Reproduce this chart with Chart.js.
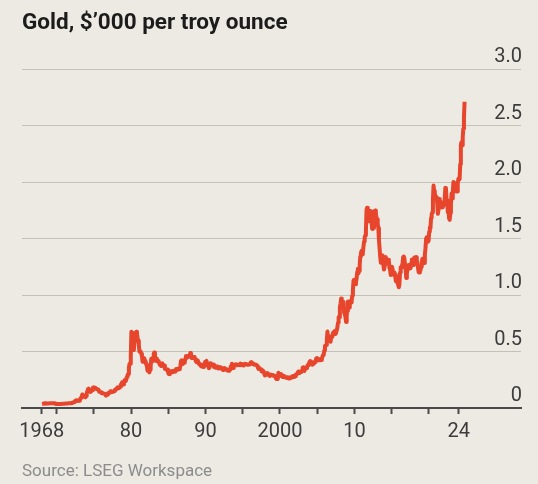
<!DOCTYPE html>
<html>
<head>
<meta charset="utf-8">
<script src="https://cdn.jsdelivr.net/npm/chart.js@4.4.1/dist/chart.umd.min.js"></script>
<style>
  html, body { margin: 0; padding: 0; background: #edeae3; }
  #wrap { position: relative; width: 538px; height: 484px; overflow: hidden; }
  #goldChart { position: absolute; left: 0; top: 0; }
  .title {
    position: absolute; left: 22px; top: 10px;
    font: 700 22.5px/22px Roboto, sans-serif; color: #1c1c1c; white-space: nowrap;
  }
  .source {
    position: absolute; left: 22px; top: 462px;
    font: 400 17px/17px Roboto, sans-serif; color: #8c8c8c; white-space: nowrap;
  }
</style>
</head>
<body>
<div id="wrap">
  <canvas id="goldChart" width="538" height="484"></canvas>
  <div class="title">Gold, $’000 per troy ounce</div>
  <div class="source">Source: LSEG Workspace</div>
</div>
<script>
'use strict';

// Gold price, monthly averages in $ per troy ounce, starting Jan 1968
const startYear = 1968;

const gold1960s = [
  35, 35, 37, 38, 41, 41, 39, 39, 40, 40, 40, 41,
  42, 43, 43, 43, 43, 41, 42, 41, 41, 40, 37, 35
];

const gold1970s = [
  35, 35, 35, 36, 36, 35, 35, 35, 36, 38, 37, 37,
  38, 39, 39, 39, 40, 40, 41, 42, 42, 42, 43, 43,
  46, 48, 48, 49, 54, 60, 66, 68, 65, 65, 63, 64,
  65, 74, 85, 91, 103, 120, 120, 106, 103, 100, 95, 106,
  129, 150, 168, 172, 163, 154, 143, 154, 151, 158, 181, 183,
  176, 180, 178, 170, 167, 166, 166, 163, 144, 143, 142, 139,
  131, 131, 133, 128, 127, 125, 118, 110, 114, 117, 130, 134,
  132, 136, 148, 149, 147, 141, 143, 145, 149, 158, 162, 161,
  173, 178, 184, 175, 177, 183, 189, 206, 212, 227, 206, 208,
  227, 245, 242, 239, 257, 279, 295, 301, 355, 392, 392, 456
];

const gold1980s = [
  675, 665, 554, 517, 514, 600, 644, 627, 674, 661, 623, 595,
  557, 500, 499, 495, 480, 460, 409, 410, 443, 437, 413, 410,
  384, 375, 330, 350, 334, 315, 339, 364, 435, 424, 414, 444,
  481, 491, 420, 432, 438, 413, 422, 416, 412, 394, 382, 388,
  371, 386, 394, 381, 377, 377, 347, 348, 341, 340, 341, 320,
  303, 299, 304, 325, 316, 317, 317, 330, 324, 326, 325, 322,
  345, 339, 346, 340, 342, 343, 348, 376, 419, 423, 398, 391,
  408, 401, 409, 439, 460, 450, 450, 461, 460, 465, 467, 486,
  477, 442, 443, 452, 451, 451, 437, 432, 413, 406, 420, 419,
  404, 388, 391, 384, 371, 368, 375, 365, 362, 367, 394, 409
];

const gold1990s = [
  410, 417, 393, 374, 369, 352, 362, 395, 389, 381, 381, 378,
  384, 363, 363, 358, 357, 367, 368, 356, 349, 359, 360, 361,
  354, 354, 345, 338, 337, 341, 353, 343, 345, 344, 335, 334,
  329, 330, 330, 342, 367, 372, 392, 379, 355, 364, 374, 383,
  387, 382, 384, 378, 381, 386, 385, 380, 392, 389, 384, 379,
  379, 377, 382, 391, 385, 387, 386, 383, 383, 383, 386, 387,
  400, 405, 396, 393, 392, 385, 383, 387, 383, 381, 378, 369,
  355, 346, 352, 344, 344, 341, 324, 324, 323, 325, 306, 289,
  289, 297, 296, 308, 299, 292, 293, 284, 289, 296, 294, 291,
  287, 287, 286, 282, 277, 262, 256, 257, 265, 311, 293, 283
];

const gold2000s = [
  285, 300, 286, 280, 275, 286, 282, 274, 273, 270, 266, 272,
  266, 262, 263, 261, 272, 270, 268, 273, 283, 283, 276, 276,
  282, 296, 294, 303, 314, 322, 314, 310, 319, 317, 319, 333,
  357, 359, 340, 328, 355, 356, 351, 360, 379, 379, 389, 407,
  414, 405, 406, 404, 384, 392, 398, 400, 406, 420, 439, 442,
  424, 423, 434, 429, 422, 431, 424, 438, 456, 470, 476, 510,
  549, 555, 557, 610, 676, 596, 633, 632, 598, 586, 627, 629,
  631, 665, 655, 680, 668, 655, 665, 665, 712, 754, 806, 803,
  889, 922, 968, 909, 889, 889, 939, 839, 830, 806, 760, 816,
  858, 943, 924, 890, 928, 946, 934, 949, 996, 1043, 1127, 1135
];

const gold2010s = [
  1118, 1095, 1113, 1148, 1205, 1232, 1193, 1215, 1271, 1342, 1370, 1391,
  1360, 1374, 1424, 1473, 1510, 1529, 1572, 1756, 1772, 1666, 1739, 1652,
  1656, 1743, 1674, 1650, 1585, 1596, 1594, 1630, 1745, 1747, 1722, 1685,
  1671, 1627, 1593, 1487, 1414, 1343, 1285, 1352, 1349, 1316, 1275, 1225,
  1244, 1300, 1336, 1299, 1287, 1279, 1311, 1296, 1239, 1222, 1176, 1200,
  1251, 1227, 1179, 1198, 1199, 1181, 1128, 1117, 1125, 1157, 1087, 1068,
  1097, 1199, 1246, 1242, 1260, 1276, 1337, 1341, 1326, 1267, 1238, 1151,
  1192, 1234, 1231, 1266, 1246, 1260, 1237, 1283, 1315, 1280, 1282, 1265,
  1331, 1331, 1325, 1335, 1303, 1282, 1238, 1202, 1199, 1215, 1221, 1250,
  1291, 1320, 1301, 1286, 1284, 1359, 1413, 1500, 1510, 1495, 1471, 1480
];

const gold2020s = [
  1560, 1597, 1592, 1683, 1716, 1732, 1846, 1968, 1921, 1900, 1866, 1858,
  1867, 1808, 1718, 1760, 1850, 1834, 1807, 1785, 1775, 1777, 1821, 1790,
  1817, 1856, 1948, 1937, 1849, 1837, 1733, 1764, 1681, 1665, 1726, 1798,
  1898, 1854, 1912, 2000, 1992, 1943, 1951, 1918, 1916, 1916, 1985, 2028,
  2034, 2025, 2158, 2331, 2351, 2326, 2398, 2472, 2572, 2710
];

// x-axis ticks and which of them carry a label
const tickYears = [1968, 1970, 1975, 1980, 1985, 1990, 1995, 2000, 2005, 2010, 2015, 2020, 2024];
const tickLabels = { 1968: '1968', 1980: '80', 1990: '90', 2000: '2000', 2010: '10', 2024: '24' };
const yTicks = [0, 0.5, 1, 1.5, 2, 2.5, 3];

const goldMonthly = [].concat(gold1960s, gold1970s, gold1980s, gold1990s, gold2000s, gold2010s, gold2020s);
const goldPoints = goldMonthly.map((v, i) => ({ x: startYear + (i + 0.5) / 12, y: v / 1000 }));

const axisColor = '#4a4a4a';
const labelColor = '#3c3c3c';

new Chart(document.getElementById('goldChart'), {
  type: 'line',
  data: {
    datasets: [{
      data: goldPoints,
      borderColor: '#e8452d',
      borderWidth: 4,
      pointRadius: 0,
      tension: 0,
      borderJoinStyle: 'round',
      fill: false
    }]
  },
  options: {
    responsive: false,
    animation: false,
    devicePixelRatio: 1,
    layout: { padding: { left: 22, right: 17, top: 69, bottom: 36 } },
    plugins: {
      legend: { display: false },
      tooltip: { enabled: false }
    },
    scales: {
      x: {
        type: 'linear',
        min: 1965.35,
        max: 2032.37,
        afterBuildTicks: (scale) => { scale.ticks = tickYears.map(v => ({ value: v })); },
        afterFit: (scale) => { scale.height = 40; },
        grid: {
          drawOnChartArea: false,
          drawTicks: true,
          tickLength: 6,
          tickColor: axisColor,
          tickWidth: 2
        },
        border: { display: true, color: axisColor, width: 2 },
        ticks: {
          autoSkip: false,
          maxRotation: 0,
          padding: 6,
          color: labelColor,
          font: { family: 'Roboto', size: 20 },
          callback: (v) => tickLabels[v] || ''
        }
      },
      y: {
        position: 'right',
        min: 0,
        max: 3,
        afterBuildTicks: (scale) => { scale.ticks = yTicks.map(v => ({ value: v })); },
        afterFit: (scale) => { scale.width = 0; },
        grid: { color: '#c4c1b9', lineWidth: 1, drawTicks: false },
        border: { display: false },
        ticks: {
          mirror: true,
          padding: 1,
          labelOffset: -12,
          color: labelColor,
          font: { family: 'Roboto', size: 20 },
          callback: (v) => (v === 0 ? '0' : v.toFixed(1))
        }
      }
    }
  }
});
</script>
</body>
</html>
